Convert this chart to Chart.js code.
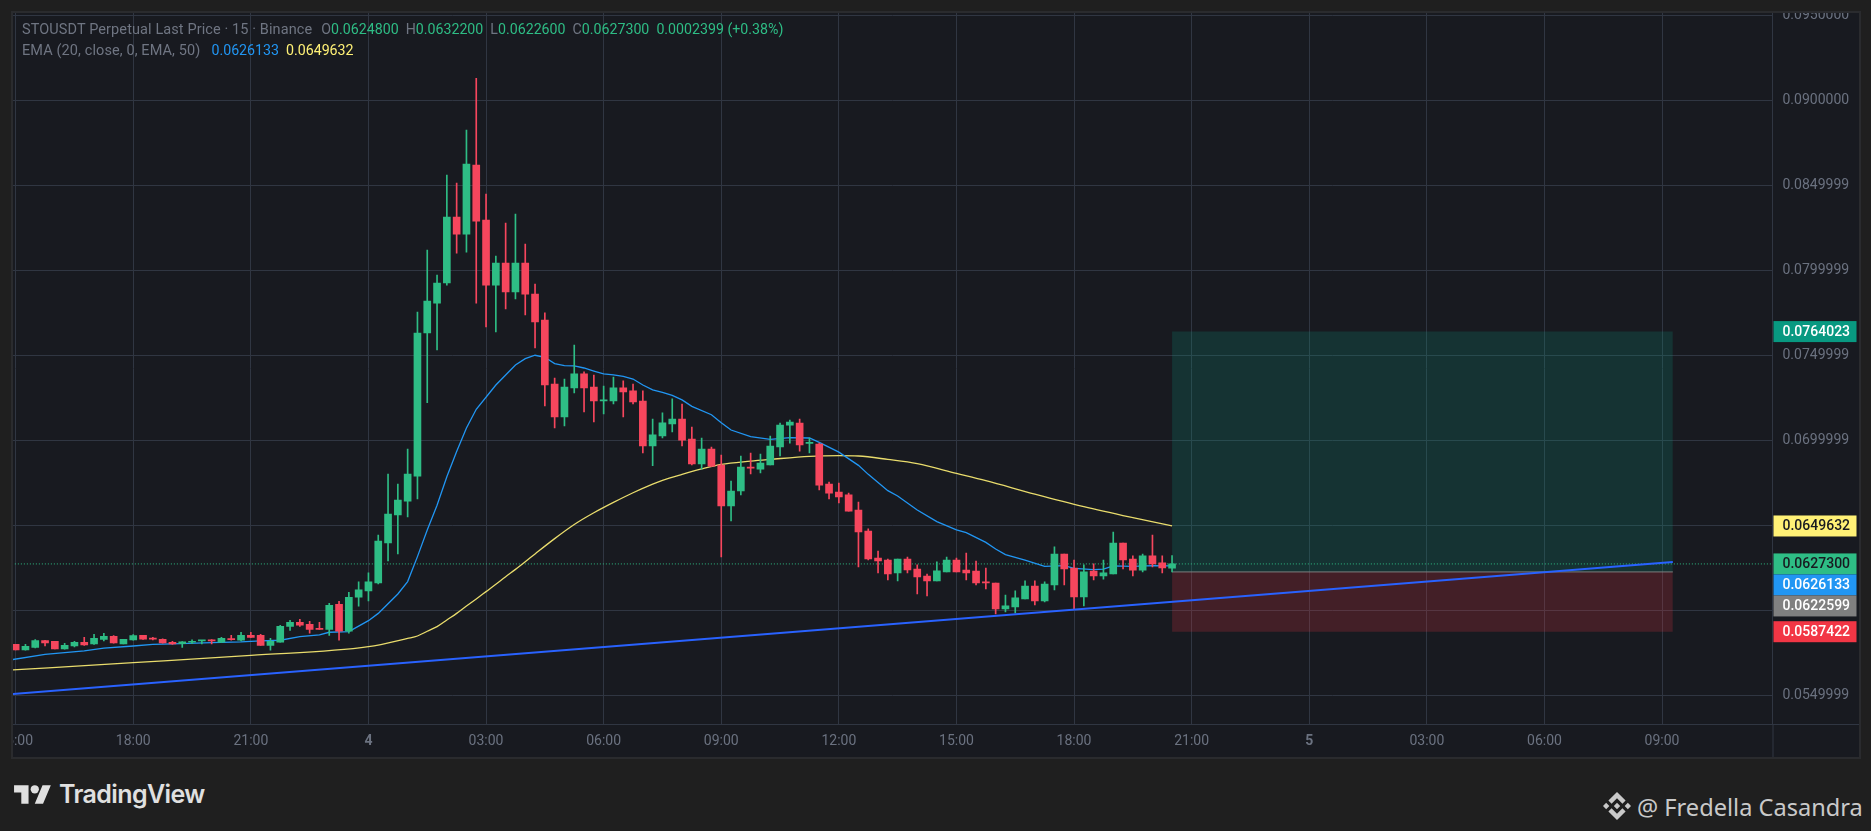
<!DOCTYPE html>
<html>
<head>
<meta charset="utf-8">
<title>STOUSDT Perpetual</title>
<script src="https://cdn.jsdelivr.net/npm/chart.js@4/dist/chart.umd.min.js"></script>
<style>
  html, body { margin: 0; padding: 0; width: 1871px; height: 831px; background: #1f1f1f; overflow: hidden; font-family: Roboto, sans-serif; }
  #panel { position: absolute; left: 11px; top: 11px; width: 1846px; height: 744px; border: 2px solid #2a2b2e; background: #181a20; }
  #chart { position: absolute; left: 0; top: 0; }
  .legend { position: absolute; left: 22px; font-size: 14.2px; line-height: 20px; color: #6f7582; white-space: pre; }
  .name { font-size: 14.5px; letter-spacing: 0.1px; }
  .up { color: #2ebd85; }
  .ema20 { color: #2196f3; }
  .ema50 { color: #fff176; }
  #tvText { position: absolute; left: 59px; top: 779px; font: 600 25px Inter, sans-serif; letter-spacing: -0.6px; color: #e0e0e0; }
  #author { position: absolute; left: 1637px; top: 791px; font: 23.6px "Noto Sans", sans-serif; color: #c9c9c9; white-space: pre; }
  svg { position: absolute; }
</style>
</head>
<body>
<div id="panel"><canvas id="chart" width="1846" height="744"></canvas></div>
<div class="legend" style="top:19px"><span class="name">STOUSDT Perpetual Last Price · 15 · Binance</span>  <span style="margin-left:2px">O</span><span class="up">0.0624800</span>  H<span class="up">0.0632200</span>  L<span class="up">0.0622600</span>  C<span class="up">0.0627300</span>  <span class="up">0.0002399 (+0.38%)</span></div>
<div class="legend" style="top:40px"><span class="name">EMA (20, close, 0, EMA, 50)</span>  <span class="ema20" style="margin-left:4px">0.0626133</span>  <span class="ema50">0.0649632</span></div>
<svg style="left:14px;top:781px" width="37.4" height="29" viewBox="0 0 36 28"><path fill="#e0e0e0" d="M14 22H7V11H0V4h14v18zM28 22h-8l7.5-18h8L28 22z"/><circle fill="#e0e0e0" cx="20" cy="8" r="4"/></svg>
<div id="tvText">TradingView</div>
<svg style="left:1603px;top:792px" width="28" height="28" viewBox="0 0 126.61 126.61"><path fill="#c9c9c9" d="M38.73 53.2l24.59-24.58 24.6 24.6 14.3-14.31L63.32 0 24.43 38.9zM0 63.31l14.3-14.31 14.31 14.31-14.31 14.3zM38.73 73.41l24.59 24.59 24.6-24.6 14.31 14.29-38.9 38.91-38.91-38.88zM98 63.31l14.3-14.31 14.31 14.3-14.31 14.3zM77.83 63.3L63.32 48.78 52.59 59.51l-1.24 1.23-2.54 2.54 14.51 14.5 14.51-14.52z"/></svg>
<div id="author">@ Fredella Casandra</div>

<script>
// 15 minute candles, bar 0 = 15:00 on the 3rd
const candleOpen = [
  .05800,.05767,.05782,.05822,.05818,.05773,.05790,.05812,.05802,.05829,
  .05847,.05802,.05826,.05853,.05835,.05829,.05812,.05804,.05812,.05820,
  .05824,.05812,.05833,.05824,.05853,.05853,.05794,.05812,.05906,.05929,
  .05918,.05894,.05888,.06035,.05877,.06078,.06114,.06161,.06396,.06561,
  .06643,.06790,.07632,.07808,.07926,.08314,.08214,.08620,.08296,.07914,
  .08044,.07873,.08044,.07861,.07708,.07332,.07138,.07309,.07391,.07314,
  .07232,.07232,.07309,.07291,.07232,.06967,.07026,.07097,.07125,.07008,
  .06861,.06949,.06855,.06614,.06702,.06843,.06831,.06855,.06961,.07090,
  .07102,.06982,.06978,.06743,.06696,.06679,.06590,.06467,.06308,.06296,
  .06220,.06302,.06243,.06202,.06173,.06226,.06296,.06237,.06231,.06167,
  .06161,.06008,.06020,.06067,.06143,.06055,.06149,.06331,.06249,.06079,
  .06231,.06202,.06214,.06396,.06302,.06237,.06320,.06279,.06248];
const candleHigh = [
  .05800,.05800,.05828,.05824,.05818,.05806,.05818,.05841,.05859,.05865,
  .05851,.05829,.05857,.05853,.05841,.05833,.05818,.05816,.05826,.05824,
  .05828,.05841,.05853,.05871,.05871,.05859,.05835,.05912,.05941,.05947,
  .05935,.05929,.06041,.06053,.06106,.06167,.06220,.06443,.06802,.06743,
  .06949,.07755,.08120,.07973,.08561,.08514,.08826,.09131,.08449,.08085,
  .08279,.08332,.08155,.07920,.07750,.07367,.07361,.07561,.07403,.07385,
  .07320,.07373,.07350,.07332,.07291,.07126,.07162,.07244,.07214,.07078,
  .07014,.06961,.06914,.06761,.06908,.06926,.06920,.07025,.07102,.07120,
  .07125,.07014,.06984,.06755,.06749,.06690,.06637,.06479,.06349,.06302,
  .06302,.06314,.06267,.06214,.06285,.06314,.06308,.06337,.06290,.06249,
  .06161,.06090,.06114,.06173,.06173,.06167,.06373,.06331,.06296,.06267,
  .06273,.06296,.06461,.06396,.06320,.06331,.06443,.06320,.06322];
const candleLow = [
  .05767,.05765,.05779,.05790,.05773,.05771,.05784,.05794,.05800,.05820,
  .05806,.05802,.05824,.05829,.05826,.05806,.05800,.05782,.05804,.05802,
  .05802,.05810,.05824,.05820,.05839,.05794,.05765,.05812,.05882,.05906,
  .05865,.05888,.05853,.05824,.05865,.06025,.06055,.06155,.06290,.06332,
  .06549,.06655,.07222,.07532,.07914,.08102,.08108,.07808,.07667,.07638,
  .07773,.07832,.07738,.07544,.07203,.07073,.07085,.07279,.07167,.07109,
  .07156,.07214,.07138,.07214,.06926,.06851,.07015,.07050,.06967,.06855,
  .06831,.06845,.06314,.06526,.06679,.06802,.06808,.06855,.06908,.06984,
  .06937,.06926,.06708,.06655,.06632,.06584,.06255,.06296,.06220,.06179,
  .06173,.06220,.06096,.06085,.06173,.06226,.06226,.06179,.06149,.06126,
  .05979,.05990,.05985,.06067,.06032,.06049,.06120,.06149,.06008,.06026,
  .06179,.06184,.06214,.06243,.06202,.06226,.06255,.06220,.06226];
const candleClose = [
  .05767,.05788,.05822,.05808,.05773,.05794,.05812,.05796,.05835,.05847,
  .05808,.05829,.05851,.05831,.05831,.05808,.05802,.05814,.05816,.05824,
  .05820,.05835,.05828,.05853,.05841,.05794,.05818,.05906,.05929,.05912,
  .05888,.05888,.06029,.05877,.06076,.06120,.06167,.06408,.06567,.06649,
  .06802,.07631,.07820,.07926,.08314,.08214,.08626,.08290,.07914,.08044,
  .07873,.08044,.07861,.07697,.07326,.07138,.07314,.07391,.07309,.07232,
  .07238,.07309,.07285,.07226,.06967,.07032,.07103,.07126,.07002,.06861,
  .06949,.06849,.06614,.06702,.06843,.06837,.06867,.06967,.07090,.07108,
  .06973,.06986,.06737,.06690,.06667,.06584,.06461,.06302,.06290,.06214,
  .06302,.06238,.06196,.06173,.06232,.06296,.06226,.06220,.06161,.06161,
  .06008,.06026,.06073,.06143,.06055,.06155,.06331,.06243,.06079,.06226,
  .06202,.06220,.06396,.06296,.06237,.06320,.06273,.06249,.06273];

const ema20Bars = [-1,3,7,9,12,14,16,20,23,25,27,29,31,32,34,36,37,39,40,41,42,43,44,45,46,47,49,50,51,52,53,54,55,56,57,58,59,60,61,62,63,64,65,66,67,68,69,71,72,73,75,77,79,81,82,84,86,87,89,90,92,94,96,97,99,100,101,103,105,107,108,110,111,112,114,116,118];
const ema20Values = [.05704,.05741,.05761,.05777,.05790,.05800,.05802,.05810,.05814,.05820,.05824,.05845,.05855,.05871,.05875,.05939,.05982,.06096,.06169,.06316,.06473,.06618,.06786,.06935,.07073,.07183,.07326,.07385,.07444,.07481,.07501,.07489,.07452,.07440,.07438,.07426,.07408,.07391,.07385,.07377,.07361,.07326,.07297,.07283,.07265,.07238,.07200,.07151,.07104,.07061,.07022,.07006,.07016,.07014,.06988,.06931,.06853,.06800,.06704,.06673,.06590,.06522,.06473,.06457,.06400,.06361,.06328,.06296,.06259,.06263,.06247,.06239,.06243,.06261,.06259,.06263,.0626133];

// EMA 50
const ema50Bars = [-1,12,24,36,40,41,42,43,44,45,46,47,48,49,50,51,52,53,55,57,59,61,63,65,66,68,70,72,75,77,81,84,86,89,92,96,99,104,109,114,118];
const ema50Values = [.05647,.05692,.05735,.05786,.05835,.05849,.05877,.05904,.05943,.05982,.06025,.06067,.06110,.06153,.06198,.06241,.06286,.06332,.06422,.06505,.06574,.06635,.06692,.06743,.06765,.06800,.06832,.06859,.06878,.06888,.06906,.06910,.06908,.06888,.06863,.06806,.06763,.06684,.06610,.06545,.0649632];

// Trend line and the long position box
const trendBars = [-1, 169.1];
const trendValues = [.05505, .06284];
const boxBars = [118, 169.1];
const boxTarget = 0.0764023;
const boxEntry = 0.0622599;
const boxStop = 0.0587422;
const lastPrice = 0.06273;

// Axis ticks
const timeTicks = [0, 12, 24, 36, 48, 60, 72, 84, 96, 108, 120, 132, 144, 156, 168];
const timeLabels = ["15:00", "18:00", "21:00", "4", "03:00", "06:00", "09:00", "12:00", "15:00", "18:00", "21:00", "5", "03:00", "06:00", "09:00"];
const priceTicks = [0.095, 0.09, 0.085, 0.08, 0.075, 0.07, 0.065, 0.06, 0.055];
const priceLabels = ["0.0950000", "0.0900000", "0.0849999", "0.0799999", "0.0749999", "0.0699999", "0.0649999", "0.0599999", "0.0549999"];

// Price tags on the right axis
const tagValues = [0.0764023, 0.0649632, 0.06273, 0.0626133, 0.0622599, 0.0587422];
const tagLabels = ["0.0764023", "0.0649632", "0.0627300", "0.0626133", "0.0622599", "0.0587422"];
const tagColors = ["#089981", "#fff176", "#2ebd85", "#2196f3", "#808080", "#f23645"];
const tagTextColors = ["#ffffff", "#181a20", "#181a20", "#ffffff", "#ffffff", "#ffffff"];

const UP = "#2ebd85";
const DOWN = "#f6465d";
const GRID = "#303642";
const TEXT = "#6b7280";

const barColors = candleOpen.map((o, i) => candleClose[i] >= o ? UP : DOWN);

function toPoints(xs, ys) {
  return xs.map((x, i) => ({ x: x, y: ys[i] }));
}

function flatLine(label, y, color, width, dash, order) {
  return {
    type: "line", label: label, order: order,
    data: toPoints(boxBars, [y, y]),
    borderColor: color, borderWidth: width, borderDash: dash || [], pointRadius: 0
  };
}

// axis line extensions + stacked price tags
const axisExtras = {
  id: "axisExtras",
  afterDraw(chart) {
    const { ctx, chartArea, width, height, scales } = chart;
    ctx.save();
    ctx.strokeStyle = GRID;
    ctx.lineWidth = 1;
    ctx.beginPath();
    ctx.moveTo(chartArea.right + 0.5, chartArea.bottom);
    ctx.lineTo(chartArea.right + 0.5, height);
    ctx.moveTo(chartArea.right, chartArea.bottom + 0.5);
    ctx.lineTo(width, chartArea.bottom + 0.5);
    ctx.stroke();

    const tagH = 21;
    let prevBottom = -999;
    ctx.font = "500 14px Roboto, sans-serif";
    ctx.textBaseline = "middle";
    tagValues.forEach((v, i) => {
      let top = scales.y.getPixelForValue(v) - tagH / 2;
      if (top < prevBottom) top = prevBottom;
      prevBottom = top + tagH;
      ctx.fillStyle = tagColors[i];
      ctx.fillRect(chartArea.right + 1, top, 83, tagH);
      ctx.fillStyle = tagTextColors[i];
      ctx.fillText(tagLabels[i], chartArea.right + 10, top + tagH / 2 + 0.5);
    });
    ctx.restore();
  }
};

new Chart(document.getElementById("chart").getContext("2d"), {
  type: "line",
  data: {
    datasets: [
      // candle bodies first = on top
      {
        type: "bar", label: "Body", order: 2, grouped: false,
        data: candleOpen.map((o, i) => ({ x: i, y: [o, candleClose[i]] })),
        backgroundColor: barColors, barThickness: 7, minBarLength: 1
      },
      {
        type: "bar", label: "Wick", order: 3, grouped: false,
        data: candleOpen.map((o, i) => ({ x: i, y: [candleLow[i], candleHigh[i]] })),
        backgroundColor: barColors, barThickness: 1
      },
      {
        type: "line", label: "Trend", order: 1,
        data: toPoints(trendBars, trendValues),
        borderColor: "#2962ff", borderWidth: 2, pointRadius: 0
      },
      {
        type: "line", label: "EMA 20", order: 4,
        data: toPoints(ema20Bars, ema20Values),
        borderColor: "#2196f3", borderWidth: 1.3, pointRadius: 0
      },
      {
        type: "line", label: "EMA 50", order: 4,
        data: toPoints(ema50Bars, ema50Values),
        borderColor: "#e9dc6c", borderWidth: 1.3, pointRadius: 0, cubicInterpolationMode: "monotone"
      },
      {
        type: "line", label: "Last price", order: 5,
        data: toPoints([-1, 180], [lastPrice, lastPrice]),
        borderColor: UP, borderWidth: 1, borderDash: [1, 2], pointRadius: 0
      },
      flatLine("Entry", boxEntry, "#7d7d7d", 1, null, 6),
      Object.assign(flatLine("Target", boxTarget, "transparent", 0, null, 7), {
        fill: { value: boxEntry }, backgroundColor: "rgba(8, 153, 129, 0.2)"
      }),
      Object.assign(flatLine("Stop", boxStop, "transparent", 0, null, 7), {
        fill: { value: boxEntry }, backgroundColor: "rgba(242, 54, 69, 0.2)"
      })
    ]
  },
  options: {
    responsive: false,
    animation: false,
    events: [],
    layout: { padding: 0 },
    plugins: { legend: { display: false }, tooltip: { enabled: false } },
    scales: {
      x: {
        type: "linear", offset: false, min: -0.27, max: 179.27,
        afterBuildTicks: s => { s.ticks = timeTicks.map(v => ({ value: v })); },
        afterFit: s => { s.height = 33; s.paddingLeft = 0; s.paddingRight = 0; },
        grid: { color: GRID, offset: false, drawTicks: false },
        border: { color: GRID },
        ticks: {
          autoSkip: false, maxRotation: 0, padding: 9, color: TEXT,
          font: c => ({ family: "Roboto", size: 14, weight: timeLabels[c.index] && timeLabels[c.index].length === 1 ? "bold" : "normal" }),
          callback: (v, i) => timeLabels[i]
        }
      },
      y: {
        type: "linear", position: "right", min: 0.053311, max: 0.095149,
        afterBuildTicks: s => { s.ticks = priceTicks.map(v => ({ value: v })); },
        afterFit: s => { s.width = 86.5; s.paddingTop = 0; s.paddingBottom = 0; },
        grid: { color: GRID, drawTicks: false },
        border: { color: GRID },
        ticks: {
          padding: 10, color: TEXT, font: { family: "Roboto", size: 14 },
          callback: (v, i) => priceLabels[i]
        }
      }
    }
  },
  plugins: [axisExtras]
});
</script>
</body>
</html>
